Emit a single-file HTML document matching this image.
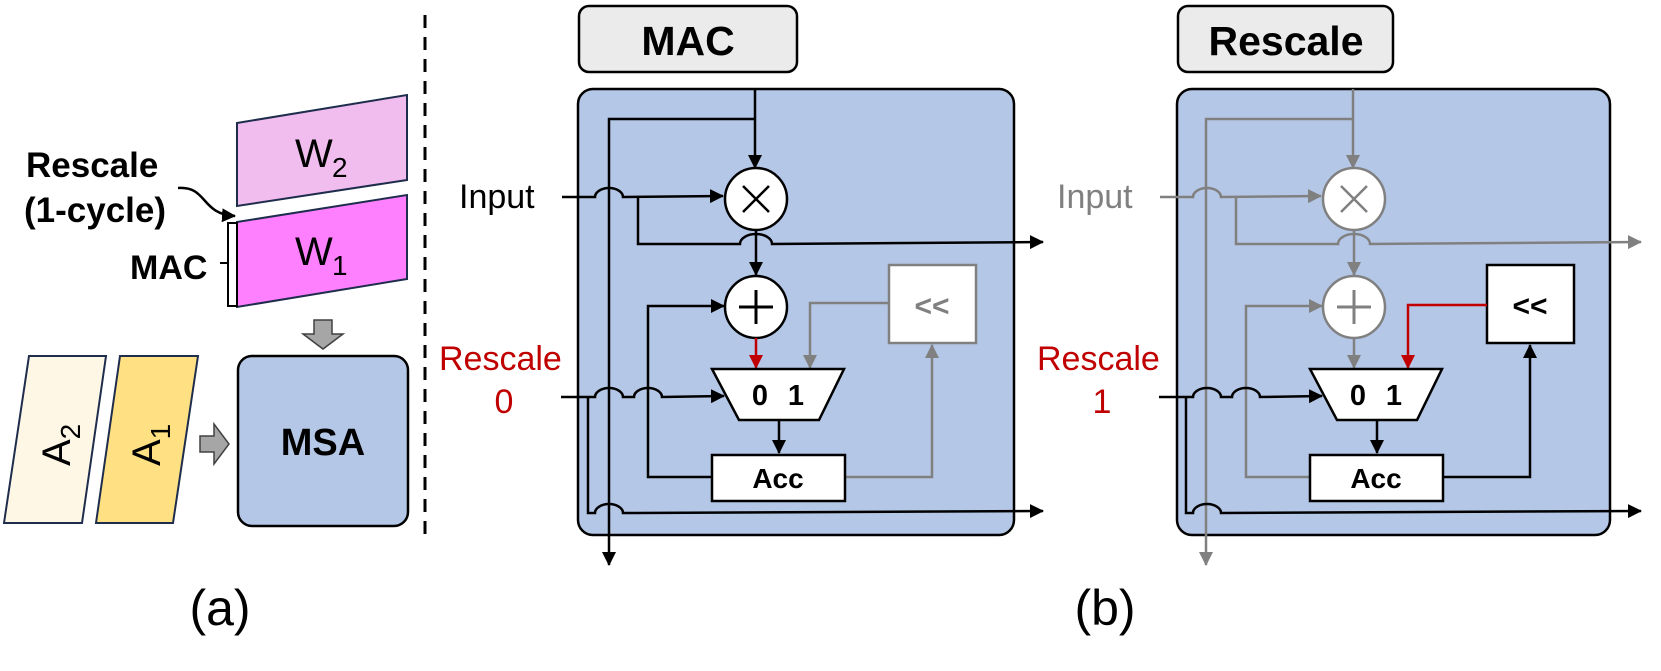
<!DOCTYPE html>
<html><head><meta charset="utf-8"><style>
html,body{margin:0;padding:0;background:#fff;}
svg{display:block;font-family:"Liberation Sans",Arial,sans-serif;}
</style></head><body>
<svg width="1661" height="671" viewBox="0 0 1661 671" xmlns="http://www.w3.org/2000/svg">
<defs>
<marker id="ak" markerWidth="14" markerHeight="14" refX="13" refY="7" orient="auto" markerUnits="userSpaceOnUse" viewBox="0 0 14 14"><path d="M0,0 L14,7 L0,14 z" fill="#000"/></marker>
<marker id="ag" markerWidth="14" markerHeight="14" refX="13" refY="7" orient="auto" markerUnits="userSpaceOnUse" viewBox="0 0 14 14"><path d="M0,0 L14,7 L0,14 z" fill="#808080"/></marker>
<marker id="ar" markerWidth="14" markerHeight="14" refX="13" refY="7" orient="auto" markerUnits="userSpaceOnUse" viewBox="0 0 14 14"><path d="M0,0 L14,7 L0,14 z" fill="#c00000"/></marker>
</defs>
<style>
.k{stroke:#000;stroke-width:2.5;fill:none}
.g{stroke:#808080;stroke-width:2.5;fill:none}
.r{stroke:#c00000;stroke-width:2.5;fill:none}
</style>

<!-- (a) -->
<polygon points="237,123 407,95 407,180 237,206" fill="#f0bdee" stroke="#1f2d4d" stroke-width="2"/>
<polygon points="237,222 407,195 407,279 237,307" fill="#ff80ff" stroke="#1f2d4d" stroke-width="2"/>
<text x="295" y="167" font-size="40">W</text><text x="332" y="177" font-size="28">2</text>
<text x="295" y="265" font-size="40">W</text><text x="332" y="275" font-size="28">1</text>
<rect x="228" y="223" width="9" height="83" fill="#fff" stroke="#000" stroke-width="2"/>
<line x1="220" y1="263" x2="228" y2="263" stroke="#000" stroke-width="2"/>
<text x="130" y="279" font-size="34" font-weight="bold">MAC</text>
<text x="26" y="177" font-size="35" font-weight="bold">Rescale</text>
<text x="24" y="222" font-size="35" font-weight="bold">(1-cycle)</text>
<path d="M178,188 C208,186 200,214 235,216" class="k" stroke-width="2" marker-end="url(#ak)"/>
<path d="M314,320 L332,320 L332,334 L343,334 L323,349 L303,334 L314,334 z" fill="#a6a6a6" stroke="#404040" stroke-width="1.5"/>
<polygon points="29,356 106,356 82,523 4,523" fill="#fff7e6" stroke="#1f2d4d" stroke-width="2"/>
<polygon points="120,356 198,356 173,523 96,523" fill="#ffe083" stroke="#1f2d4d" stroke-width="2"/>
<text transform="translate(70,466) rotate(-90)" font-size="40">A<tspan font-size="28" dy="10">2</tspan></text>
<text transform="translate(160,466) rotate(-90)" font-size="40">A<tspan font-size="28" dy="10">1</tspan></text>
<path d="M200,436 L214,436 L214,424 L229,444 L214,464 L214,452 L200,452 z" fill="#a6a6a6" stroke="#404040" stroke-width="1.5"/>
<rect x="238" y="356" width="170" height="170" rx="14" fill="#b4c7e7" stroke="#000" stroke-width="2.5"/>
<text x="323" y="455" font-size="38" font-weight="bold" text-anchor="middle">MSA</text>
<text x="220" y="625" font-size="50" text-anchor="middle">(a)</text>
<line x1="425" y1="15" x2="425" y2="534" stroke="#000" stroke-width="3" stroke-dasharray="13,9"/>
<text x="1105" y="625" font-size="50" text-anchor="middle">(b)</text>

<!-- MAC panel -->
<rect x="579" y="6" width="218" height="66" rx="10" fill="#ebebeb" stroke="#000" stroke-width="2.5"/>
<text x="688" y="55" font-size="41" font-weight="bold" text-anchor="middle">MAC</text>
<rect x="578" y="89" width="436" height="446" rx="15" fill="#b4c7e7" stroke="#000" stroke-width="2.5"/>
<path class="k" d="M755,89 L755,168" marker-end="url(#ak)"/>
<path class="k" d="M755,119 L609,119 L609,565" marker-end="url(#ak)"/>
<text x="459" y="208" font-size="34">Input</text>
<path class="k" d="M562,197 L595,197 A14 9 0 0 1 623,197 L723,196" marker-end="url(#ak)"/>
<path class="k" d="M638,197 L638,244 L740,244 A16 10 0 0 1 772,244 L1043,242" marker-end="url(#ak)"/>
<circle cx="756" cy="199" r="31" fill="#fff" stroke="#000" stroke-width="2.5"/>
<path d="M743,186 L769,212 M769,186 L743,212" stroke="#000" stroke-width="2.5"/>
<path class="k" d="M756,230 L756,275" marker-end="url(#ak)"/>
<circle cx="756" cy="307" r="31" fill="#fff" stroke="#000" stroke-width="2.5"/>
<path d="M739,307 L773,307 M756,290 L756,324" stroke="#000" stroke-width="3"/>
<path class="r" d="M756,338 L756,368" marker-end="url(#ar)"/>
<path class="k" d="M712,477 L648,477 L648,306 L724,306" marker-end="url(#ak)"/>
<rect x="889" y="265" width="87" height="78" fill="#fff" stroke="#808080" stroke-width="2.5"/>
<text x="932" y="316" font-size="30" font-weight="bold" fill="#808080" text-anchor="middle">&lt;&lt;</text>
<path class="g" d="M889,303 L810,303 L810,368" marker-end="url(#ag)"/>
<path class="g" d="M845,477 L932,477 L932,345" marker-end="url(#ag)"/>
<path class="k" d="M561,397 L595,397 A14 9 0 0 1 623,397 L634,397 A14 9 0 0 1 662,397 L724,396" marker-end="url(#ak)"/>
<path class="k" d="M588,397 L588,513 L595,513 A14 9 0 0 1 623,513 L1043,511" marker-end="url(#ak)"/>
<polygon points="712,369 844,369 819,420 739,420" fill="#fff" stroke="#000" stroke-width="2.5"/>
<text x="760" y="405" font-size="29" font-weight="bold" text-anchor="middle">0</text>
<text x="796" y="405" font-size="29" font-weight="bold" text-anchor="middle">1</text>
<path class="k" d="M779,420 L779,453" marker-end="url(#ak)"/>
<rect x="712" y="455" width="133" height="46" fill="#fff" stroke="#000" stroke-width="2.5"/>
<text x="778" y="488" font-size="28" font-weight="bold" text-anchor="middle">Acc</text>
<text x="439" y="370" font-size="34" fill="#c00000">Rescale</text>
<text x="504" y="413" font-size="34" fill="#c00000" text-anchor="middle">0</text>

<!-- Rescale panel -->
<g transform="translate(598,0)">
<rect x="580" y="6" width="215" height="66" rx="10" fill="#ebebeb" stroke="#000" stroke-width="2.5"/>
<text x="688" y="55" font-size="41" font-weight="bold" text-anchor="middle">Rescale</text>
<rect x="579" y="89" width="433" height="446" rx="15" fill="#b4c7e7" stroke="#000" stroke-width="2.5"/>
<path class="g" d="M755,89 L755,168" marker-end="url(#ag)"/>
<path class="g" d="M755,119 L608,119 L608,565" marker-end="url(#ag)"/>
<text x="459" y="208" font-size="34" fill="#808080">Input</text>
<path class="g" d="M562,197 L595,197 A14 9 0 0 1 623,197 L723,196" marker-end="url(#ag)"/>
<path class="g" d="M638,197 L638,244 L740,244 A16 10 0 0 1 772,244 L1043,242" marker-end="url(#ag)"/>
<circle cx="756" cy="199" r="31" fill="#fff" stroke="#808080" stroke-width="2.5"/>
<path d="M743,186 L769,212 M769,186 L743,212" stroke="#808080" stroke-width="2.5"/>
<path class="g" d="M756,230 L756,275" marker-end="url(#ag)"/>
<circle cx="756" cy="307" r="31" fill="#fff" stroke="#808080" stroke-width="2.5"/>
<path d="M739,307 L773,307 M756,290 L756,324" stroke="#808080" stroke-width="3"/>
<path class="g" d="M756,338 L756,368" marker-end="url(#ag)"/>
<path class="g" d="M712,477 L648,477 L648,306 L724,306" marker-end="url(#ag)"/>
<rect x="889" y="265" width="87" height="78" fill="#fff" stroke="#000" stroke-width="2.5"/>
<text x="932" y="316" font-size="30" font-weight="bold" fill="#000" text-anchor="middle">&lt;&lt;</text>
<path class="r" d="M889,305 L810,305 L810,368" marker-end="url(#ar)"/>
<path class="k" d="M845,477 L932,477 L932,345" marker-end="url(#ak)"/>
<path class="k" d="M561,397 L595,397 A14 9 0 0 1 623,397 L634,397 A14 9 0 0 1 662,397 L724,396" marker-end="url(#ak)"/>
<path class="k" d="M588,397 L588,513 L595,513 A14 9 0 0 1 623,513 L1043,511" marker-end="url(#ak)"/>
<polygon points="712,369 844,369 819,420 739,420" fill="#fff" stroke="#000" stroke-width="2.5"/>
<text x="760" y="405" font-size="29" font-weight="bold" text-anchor="middle">0</text>
<text x="796" y="405" font-size="29" font-weight="bold" text-anchor="middle">1</text>
<path class="k" d="M779,420 L779,453" marker-end="url(#ak)"/>
<rect x="712" y="455" width="133" height="46" fill="#fff" stroke="#000" stroke-width="2.5"/>
<text x="778" y="488" font-size="28" font-weight="bold" text-anchor="middle">Acc</text>
<text x="439" y="370" font-size="34" fill="#c00000">Rescale</text>
<text x="504" y="413" font-size="34" fill="#c00000" text-anchor="middle">1</text>
</g>
</svg>
</body></html>
